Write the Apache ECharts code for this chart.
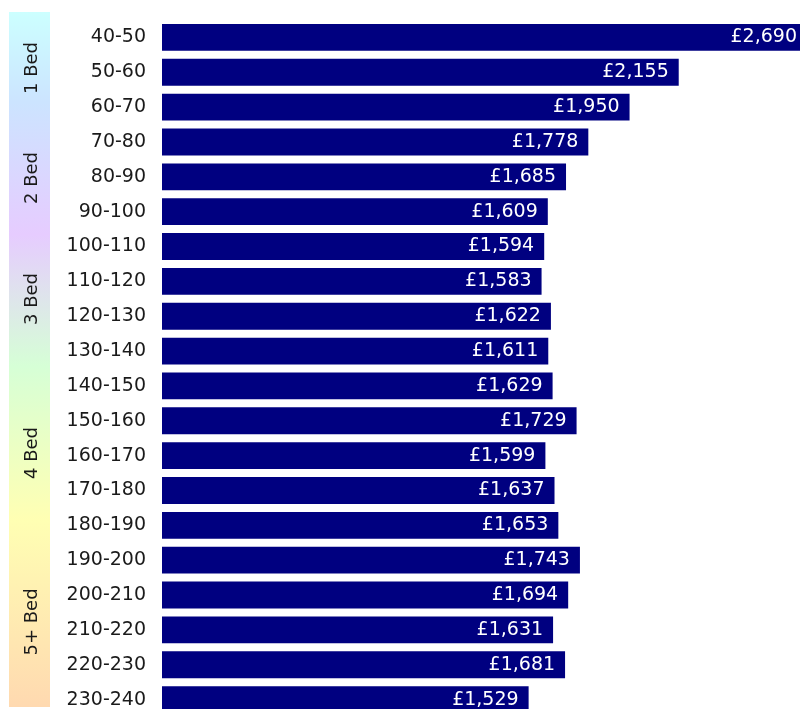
<!DOCTYPE html>
<html>
<head>
<meta charset="utf-8">
<script src="https://cdn.jsdelivr.net/npm/echarts@6/dist/echarts.min.js"></script>
<style>
html,body{margin:0;padding:0;background:#fff;}
#chart{width:800px;height:709px;}
</style>
</head>
<body>
<div id="chart"></div>
<script>
const categories = ["40-50","50-60","60-70","70-80","80-90","90-100","100-110","110-120","120-130","130-140","140-150","150-160","160-170","170-180","180-190","190-200","200-210","210-220","220-230","230-240"];
const values = [2690,2155,1950,1778,1685,1609,1594,1583,1622,1611,1629,1729,1599,1637,1653,1743,1694,1631,1681,1529];
const bedLabels = ["1 Bed","2 Bed","3 Bed","4 Bed","5+ Bed"];

const bedY = [68,178,299,453,622];
const FONT = "DejaVu Sans";

const chart = echarts.init(document.getElementById('chart'), null, {renderer:'canvas'});
const fmt = v => '£' + v.toLocaleString('en-GB');

chart.setOption({
  animation:false,
  grid:{left:162, right:-7, top:20, bottom:-8, containLabel:false, outerBoundsMode:'none'},
  xAxis:{type:'value', min:0, max:2690, show:false},
  yAxis:{type:'category', data:categories, inverse:true,
    axisLine:{show:false}, axisTick:{show:false},
    axisLabel:{color:'#1a1a1a', fontSize:19, fontFamily:FONT, margin:16}},
  series:[{type:'bar', data:values, barCategoryGap:'23%',
    itemStyle:{color:'#000080'},
    label:{show:true, position:'insideRight', distance:10, color:'#fff',
      fontSize:19, fontFamily:FONT, formatter:p=>fmt(p.value)}}],
  graphic:[
    {type:'rect', left:9, top:12, z:-1, shape:{width:41, height:695},
     style:{fill:new echarts.graphic.LinearGradient(0,0,0,1,[
       {offset:0,color:'#ccffff'},
       {offset:0.13,color:'#cce4ff'},
       {offset:0.32,color:'#e6ccff'},
       {offset:0.51,color:'#d6ffd6'},
       {offset:0.73,color:'#ffffb3'},
       {offset:1,color:'#ffd9b0'}])}}
  ].concat(bedLabels.map((t,i)=>({
    type:'text', x:32, y:bedY[i], rotation:Math.PI/2, z:5,
    style:{text:t, fill:'#1a1a1a', font:'18px "'+FONT+'"', align:'center', verticalAlign:'middle'}
  })))
});
</script>
</body>
</html>
